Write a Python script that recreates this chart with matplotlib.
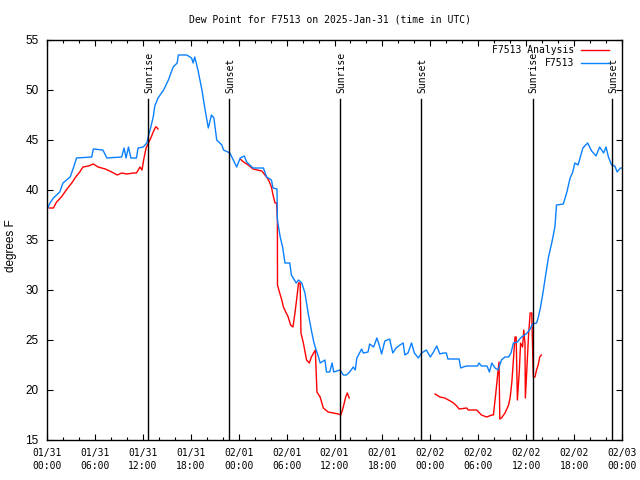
import numpy as np
import matplotlib
matplotlib.use("Agg")
import matplotlib.pyplot as plt

# hours since 01/31 00:00 UTC
blue_h = [0.1, 0.3, 0.8, 1.6, 2.0, 2.9, 3.3, 3.7, 5.6, 5.8,
          7.0, 7.5, 9.35, 9.65, 9.9, 10.2, 10.5, 11.2, 11.4, 12.05,
          12.5, 12.7, 13.0, 13.3, 13.5, 13.9, 14.6, 15.2, 15.8, 16.3,
          16.45, 17.5, 18.1, 18.3, 18.5, 18.9, 19.4, 19.8, 20.2, 20.6,
          20.9, 21.25, 21.9, 22.1, 22.9, 23.75, 24.2, 24.7, 25.0, 25.8,
          27.1, 27.5, 28.1, 28.3, 28.8, 28.85, 29.2, 29.5, 29.8, 30.4,
          30.6, 31.2, 31.5, 31.9, 32.3, 32.7, 33.1, 33.4, 33.7, 34.0,
          34.2, 34.8, 35.0, 35.4, 35.7, 35.9, 36.7, 37.1, 37.5, 37.9,
          38.35, 38.6, 38.8, 39.0, 39.4, 39.6, 40.2, 40.4, 40.9, 41.3,
          41.6, 41.9, 42.3, 42.9, 43.3, 43.7, 44.2, 44.6, 44.8, 45.2,
          45.65, 46.0, 46.5, 46.9, 47.5, 48.0, 48.4, 48.8, 49.2, 49.6,
          50.0, 50.2, 51.6, 51.8, 52.1, 52.55, 53.9, 54.1, 54.4, 55.1,
          55.4, 55.7, 56.1, 56.5, 56.9, 57.35, 57.8, 58.1, 58.4, 58.9,
          59.3, 59.6, 60.0, 60.5, 60.8, 61.3, 61.5, 61.8, 62.1, 62.5,
          62.8, 63.2, 63.6, 63.8, 64.65, 65.1, 65.5, 65.8, 66.1, 66.5,
          67.1, 67.7, 68.2, 68.75, 69.2, 69.7, 70.0, 70.3, 70.7, 71.1,
          71.4, 71.8, 72.0]
blue_v = [38.2, 38.6, 39.2, 39.8, 40.7, 41.3, 42.2, 43.2, 43.3, 44.1,
          44.0, 43.2, 43.3, 44.2, 43.2, 44.3, 43.2, 43.2, 44.2, 44.3,
          44.7, 45.4, 46.3, 47.3, 48.4, 49.2, 50.0, 51.0, 52.3, 52.7,
          53.5, 53.5, 53.2, 52.7, 53.3, 52.0, 50.0, 48.0, 46.2, 47.5,
          47.2, 45.0, 44.5, 44.0, 43.7, 42.3, 43.2, 43.4, 42.8, 42.2,
          42.2, 41.3, 41.0, 40.2, 40.1, 37.0, 35.3, 34.3, 32.7, 32.7,
          31.5, 30.7, 31.0, 30.7, 29.7, 27.7, 26.0, 24.8, 24.0, 23.3,
          22.7, 23.0, 21.8, 21.8, 22.7, 21.8, 22.0, 21.5, 21.5, 21.8,
          22.3, 22.0, 23.2, 23.5, 24.1, 23.7, 23.8, 24.6, 24.3, 25.2,
          24.5, 23.6, 24.9, 25.1, 23.7, 24.2, 24.5, 24.7, 23.5, 23.7,
          24.7, 23.7, 23.2, 23.7, 24.0, 23.3, 23.8, 24.4, 23.6, 23.7,
          23.7, 23.1, 23.1, 22.2, 22.3, 22.4, 22.4, 22.7, 22.4, 22.4,
          21.8, 22.7, 22.2, 22.0, 23.0, 23.3, 23.3, 23.7, 24.7, 24.8,
          25.2, 25.4, 25.6, 26.1, 26.6, 26.7, 27.2, 28.3, 29.7, 31.8,
          33.3, 34.7, 36.3, 38.5, 38.6, 39.8, 41.2, 41.7, 42.7, 42.5,
          44.2, 44.7, 43.9, 43.4, 44.3, 43.7, 44.3, 43.3, 42.5, 42.4,
          41.8, 42.2, 42.2]

red_h = [0.3, 0.8, 1.2, 1.8, 2.5, 3.1, 3.6, 4.1, 4.5, 5.2,
         5.8, 6.4, 7.3, 8.1, 8.8, 9.35, 10.0, 10.8, 11.2, 11.65,
         11.9, 12.1, 12.4, 12.7, 13.0, 13.3, 13.6, 13.7, 13.9,
         19.0,
         24.2, 24.6, 25.2, 25.8, 26.9, 27.5, 27.8, 28.1, 28.3, 28.55,
         28.75, 28.85, 28.86, 29.1, 29.4, 29.6, 29.9, 30.2, 30.5, 30.8,
         31.05, 31.25, 31.5, 31.7, 31.8, 32.1, 32.5, 32.85, 33.1, 33.6,
         33.8, 34.2, 34.6, 35.2, 35.85, 36.5, 36.8, 37.1, 37.4, 37.6, 37.85,
         43.0,
         48.6, 49.2, 49.8, 50.5, 50.9, 51.3, 51.6, 52.55, 52.75, 53.8,
         54.4, 55.05, 55.7, 55.9, 56.2, 56.4, 56.6, 56.7, 56.9, 57.35,
         57.8, 58.0, 58.2, 58.4, 58.6, 58.75, 58.9, 59.15, 59.3, 59.55,
         59.7, 59.85, 59.9, 60.1, 60.3, 60.5, 60.7, 60.8, 60.9, 61.1,
         61.3, 61.5, 61.7, 61.9]
red_v = [38.2, 38.2, 38.8, 39.3, 40.1, 40.7, 41.3, 41.8, 42.3, 42.4,
         42.6, 42.3, 42.1, 41.8, 41.5, 41.7, 41.6, 41.7, 41.7, 42.3,
         42.0, 43.0, 44.2, 44.7, 45.2, 45.8, 46.3, 46.3, 46.1,
         np.nan,
         43.1, 42.8, 42.5, 42.1, 41.9, 41.3, 40.9, 40.3, 39.5, 38.7,
         38.7, 37.0, 30.5, 29.8, 29.0, 28.3, 27.8, 27.3, 26.5, 26.3,
         27.7, 29.0, 30.7, 30.7, 25.7, 24.7, 23.0, 22.7, 23.3, 24.0,
         19.8, 19.3, 18.2, 17.8, 17.7, 17.6, 17.5, 18.3, 19.3, 19.7, 19.2,
         np.nan,
         19.6, 19.3, 19.2, 18.9, 18.7, 18.4, 18.1, 18.2, 18.0, 18.0,
         17.5, 17.3, 17.5, 17.5, 19.7, 21.3, 22.8, 17.1, 17.2, 17.7,
         18.5, 19.3, 20.7, 23.0, 25.3, 25.3, 19.0, 22.0, 24.7, 24.3,
         26.0, 24.7, 19.2, 22.3, 25.5, 27.7, 27.7, 24.3, 21.3, 21.3,
         22.0, 22.5, 23.3, 23.5]

sunrise_h = [12.7, 36.73, 60.8]
sunset_h = [22.82, 46.85, 70.8]

xtick_h = list(range(0, 73, 6))
xtick_labels = ["01/31\n00:00", "01/31\n06:00", "01/31\n12:00", "01/31\n18:00",
                "02/01\n00:00", "02/01\n06:00", "02/01\n12:00", "02/01\n18:00",
                "02/02\n00:00", "02/02\n06:00", "02/02\n12:00", "02/02\n18:00",
                "02/03\n00:00"]
ytick_vals = [15, 20, 25, 30, 35, 40, 45, 50, 55]

title = "Dew Point for F7513 on 2025-Jan-31 (time in UTC)"
ylabel = "degrees F"
label_red = "F7513 Analysis"
label_blue = "F7513"

RED = "#ff0000"
BLUE = "#0a80ff"
MONO = "DejaVu Sans Mono"

fig = plt.figure(figsize=(6.4, 4.8), dpi=100)
W, H = 640, 480
L, R, T, B = 47, 622, 40, 440
ax = fig.add_axes([L / W, 1 - B / H, (R - L) / W, (B - T) / H])

ax.plot(red_h, red_v, color=RED, lw=1.0)
ax.plot(blue_h, blue_v, color=BLUE, lw=1.0)

ax.set_xlim(0, 72)
ax.set_ylim(15, 55)

line_top = 49.1
for h in sunrise_h:
    ax.plot([h, h], [15, line_top], color="black", lw=1.0)
    ax.text(h + 0.15, 49.7, "Sunrise", rotation=90, ha="center", va="bottom",
            family=MONO, fontsize=7)
for h in sunset_h:
    ax.plot([h, h], [15, line_top], color="black", lw=1.0)
    ax.text(h + 0.15, 49.7, "Sunset", rotation=90, ha="center", va="bottom",
            family=MONO, fontsize=7)

ax.set_xticks(xtick_h)
ax.set_xticklabels(xtick_labels, family=MONO, fontsize=7, linespacing=1.35)
ax.set_xticks(np.arange(0, 73, 2), minor=True)
ax.set_yticks(ytick_vals)
ax.set_yticklabels([str(v) for v in ytick_vals], family="Liberation Sans", fontsize=8.5)

ax.tick_params(which="both", direction="in", top=True, right=True, width=0.8, color="black")
ax.tick_params(which="major", length=4.0)
ax.tick_params(which="minor", length=2.3)
ax.tick_params(axis="x", which="major", pad=6)
ax.tick_params(axis="y", which="major", pad=6)
for s in ax.spines.values():
    s.set_linewidth(1.0)

fig.text(11 / W, 1 - 246 / H, ylabel, rotation=90, ha="center", va="center",
         family="Liberation Sans", fontsize=8.5)
fig.text(330 / W, 1 - 19 / H, title, ha="center", va="center", family=MONO, fontsize=7)

# legend (manual, gnuplot style: text right-aligned, sample to the right)
for i, (lab, col) in enumerate([(label_red, RED), (label_blue, BLUE)]):
    y = 1 - (50 + 13 * i) / H
    fig.text(574 / W, y, lab, ha="right", va="center", family=MONO, fontsize=7)
    fig.add_artist(plt.Line2D([581 / W, 609 / W], [y, y], color=col, lw=1.0,
                              transform=fig.transFigure))

fig.savefig("out.png", dpi=100)
